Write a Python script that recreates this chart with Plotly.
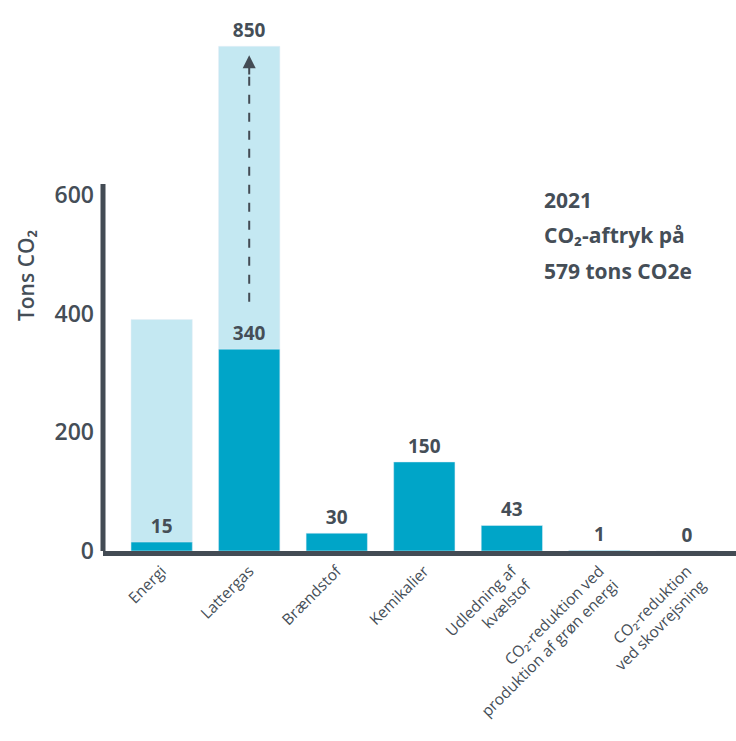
import plotly.graph_objects as go

categories = ["Energi", "Lattergas", "Brændstof", "Kemikalier",
              "Udledning af<br>kvælstof",
              "CO₂-reduktion ved<br>produktion af grøn energi",
              "CO₂-reduktion<br>ved skovrejsning"]
light_values = [390, 850, None, None, None, None, None]
dark_values = [15, 340, 30, 150, 43, 1, 0]
light_labels = ["", "850", "", "", "", "", ""]
dark_labels = ["15", "340", "30", "150", "43", "1", "0"]
y_ticks = [0, 200, 400, 600]
note_lines = ["2021", "CO₂-aftryk på", "579 tons CO2e"]

LIGHT = "#c4e8f2"
DARK = "#00a5c8"
TXT = "#454e57"
AX = "#434b54"
FONT = "Open Sans"

x = list(range(len(categories)))

fig = go.Figure()
fig.add_trace(go.Bar(x=x, y=light_values, marker_color=LIGHT, width=0.7,
                     text=light_labels, textposition="outside", cliponaxis=False,
                     textfont=dict(size=19, color=TXT, family=FONT, weight=700),
                     hoverinfo="skip"))
fig.add_trace(go.Bar(x=x, y=dark_values, marker_color=DARK, width=0.7,
                     text=dark_labels, textposition="outside", cliponaxis=False,
                     textfont=dict(size=19, color=TXT, family=FONT, weight=700),
                     hoverinfo="skip"))

# y axis line (partial height)
fig.add_shape(type="line", xref="paper", yref="y", x0=0, x1=0, y0=0, y1=618,
              line=dict(color=AX, width=5))
# dashed arrow in Lattergas bar
fig.add_shape(type="line", xref="x", yref="y", x0=1, x1=1, y0=420, y1=820,
              line=dict(color=AX, width=2, dash="dash"))
fig.add_annotation(x=1, y=835, ax=1, ay=800, xref="x", yref="y", axref="x", ayref="y",
                   showarrow=True, arrowhead=2, arrowsize=1.3, arrowwidth=2,
                   arrowcolor=AX, text="")

for i, line in enumerate(note_lines):
    fig.add_annotation(xref="paper", yref="paper", x=0.693, y=0.637 - i * 0.064,
                       xanchor="left", yanchor="middle",
                       text=line, showarrow=False, align="left",
                       font=dict(size=21, color=TXT, family=FONT, weight=700))

fig.update_layout(
    barmode="overlay",
    width=736, height=741,
    margin=dict(l=103, r=0, t=0, b=190),
    paper_bgcolor="white", plot_bgcolor="white",
    showlegend=False,
    font=dict(family=FONT, color=TXT),
    xaxis=dict(range=[-0.67, 6.56], tickvals=x, ticktext=categories, tickangle=-45,
               tickfont=dict(size=15.5, color=TXT, family=FONT),
               showline=True, linecolor=AX, linewidth=5, ticks="",
               showgrid=False, zeroline=False),
    yaxis=dict(range=[0, 928], tickvals=y_ticks, ticktext=[str(v) for v in y_ticks],
               tickfont=dict(size=23, color=TXT, family=FONT, weight=600),
               showline=False, showgrid=False, zeroline=False, ticks="",
               ticklabelstandoff=8,
               title=dict(text="Tons CO₂", font=dict(size=21, color=TXT, family=FONT, weight=600),
                          standoff=14)),
)
fig.write_html("out.html")
